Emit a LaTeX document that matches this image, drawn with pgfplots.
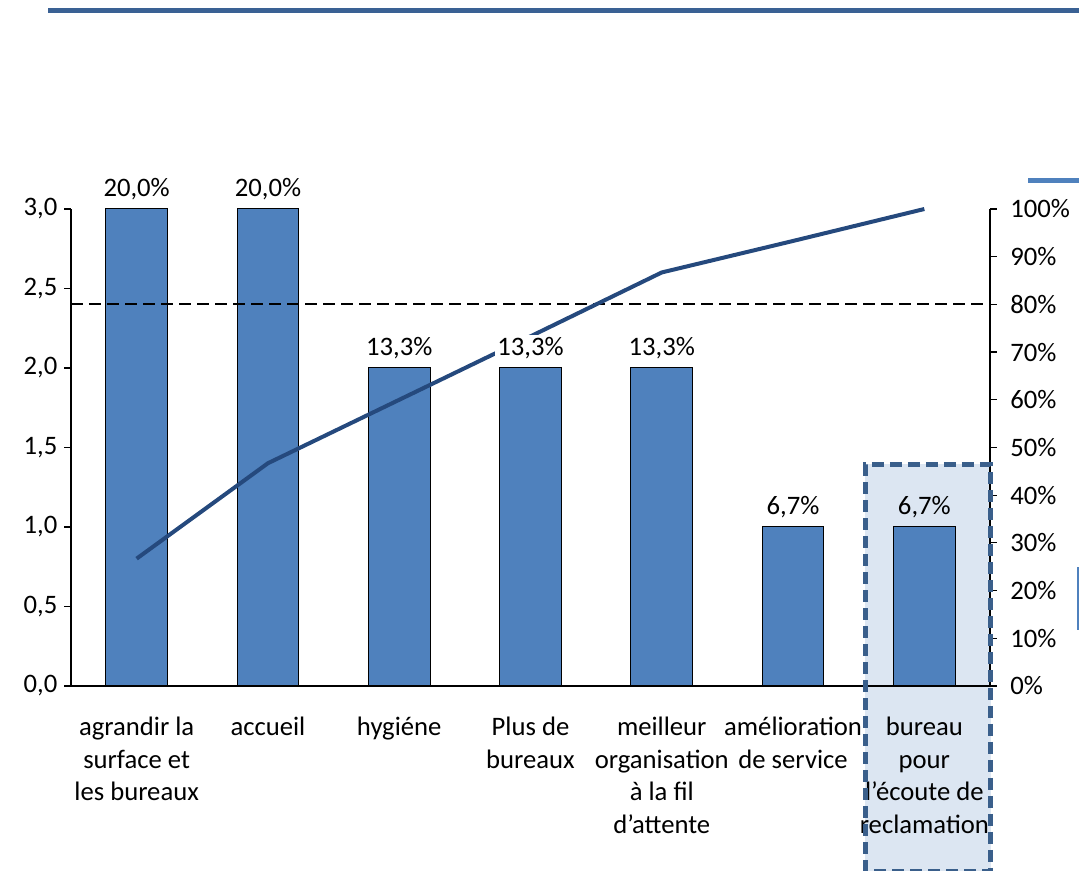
\documentclass[border=0pt]{standalone}
\usepackage{fontspec}
\setmainfont{Carlito}
\usepackage{pgfplots}
\pgfplotsset{compat=1.18}
\usepackage{pgfplotstable}
\definecolor{barblue}{HTML}{4F81BD}
\definecolor{linenavy}{HTML}{25497D}
\definecolor{boxfill}{HTML}{DCE6F2}
\definecolor{boxedge}{HTML}{3A5F8B}
\definecolor{topbar}{HTML}{3A6194}

\pgfplotstableread{
x y cum label
0 3 26.7 {20,0\%}
1 3 46.7 {20,0\%}
2 2 60.0 {13,3\%}
3 2 73.3 {13,3\%}
4 2 86.7 {13,3\%}
5 1 93.3 {6,7\%}
6 1 100.0 {6,7\%}
}\data

\begin{document}
\begin{tikzpicture}[x=1pt,y=1pt]
\useasboundingbox (0,0) rectangle (809.25,653.25);
\fill[boxfill] (648.75,-2) rectangle (742.9,304.9);
\draw[topbar, line width=3.75pt] (36,645) -- (812,645);
\draw[barblue, line width=3.75pt] (771,517.9) -- (812,517.9);
\draw[barblue, line width=1.5pt] (808.5,180.75) -- (808.5,228);
\begin{axis}[
  at={(53.25pt,138.75pt)}, anchor=south west,
  scale only axis, width=689.25pt, height=357.75pt,
  xmin=-0.5, xmax=6.5, ymin=0, ymax=3,
  axis x line*=bottom, axis y line*=left,
  axis line style={black, line width=0.9pt},
  tick align=outside, major tick length=5pt,
  every tick/.style={black, line width=0.9pt},
  xtick={0,...,6}, xtick style={draw=none},
  xticklabels={
    {agrandir la\\surface et\\les bureaux},
    {accueil},
    {hygiéne},
    {Plus de\\bureaux},
    {meilleur\\organisation\\à la fil\\d’attente},
    {amélioration\\de service},
    {bureau\\pour\\l’écoute de\\reclamation}},
  ytick={0,0.5,...,3},
  yticklabels={{0,0},{0,5},{1,0},{1,5},{2,0},{2,5},{3,0}},
  ticklabel style={font=\fontsize{20}{24.5}\selectfont},
  xticklabel style={align=center, anchor=north, inner sep=0pt, yshift=-18pt},
  yticklabel style={inner sep=0pt, xshift=-5pt},
  clip=false,
]
\addplot[ybar, bar width=0.47, bar shift=0pt, fill=barblue, draw=black, line width=0.75pt] table[x=x,y=y]{\data};
\addplot[black, line width=1.5pt, dash pattern=on 9pt off 4.5pt] coordinates {(-0.5,2.4) (6.5,2.4)};
\addplot[linenavy, line width=3pt, mark=none] table[x=x, y expr=\thisrow{cum}*0.03]{\data};
\addplot[draw=none, mark=none, nodes near coords, point meta=explicit symbolic,
  skip coords between index={6}{7},
  every node near coord/.style={font=\fontsize{20}{25}\selectfont, fill=white, inner sep=2pt, anchor=base, yshift=9.3pt, text=black}]
  table[x=x,y=y,meta=label]{\data};
\addplot[draw=none, mark=none, nodes near coords, point meta=explicit symbolic,
  skip coords between index={0}{6},
  every node near coord/.style={font=\fontsize{20}{25}\selectfont, inner sep=2pt, anchor=base, yshift=9.3pt, text=black}]
  table[x=x,y=y,meta=label]{\data};
\end{axis}
\begin{axis}[
  at={(53.25pt,138.75pt)}, anchor=south west,
  scale only axis, width=689.25pt, height=357.75pt,
  xmin=-0.5, xmax=6.5, ymin=0, ymax=100,
  axis x line=none, axis y line*=right,
  axis line style={black, line width=0.9pt},
  tick align=outside, major tick length=5pt,
  every tick/.style={black, line width=0.9pt},
  ytick={0,10,...,100},
  yticklabels={0\%,10\%,20\%,30\%,40\%,50\%,60\%,70\%,80\%,90\%,100\%},
  ticklabel style={font=\fontsize{20}{25}\selectfont},
  yticklabel style={inner sep=0pt, xshift=10pt},
]
\addplot[draw=none] coordinates {(0,0)};
\end{axis}
\draw[boxedge, line width=3.75pt, dash pattern=on 9pt off 4.5pt] (648.75,-0.4) rectangle (742.9,304.9);
\end{tikzpicture}
\end{document}
